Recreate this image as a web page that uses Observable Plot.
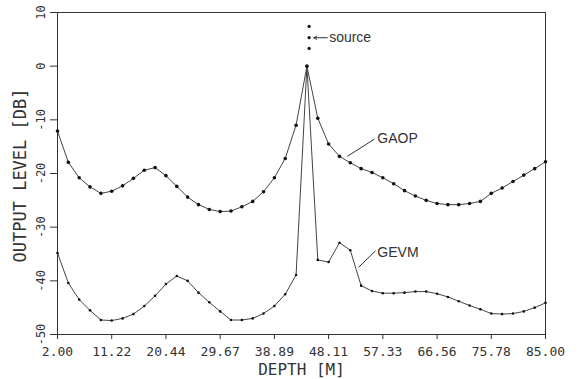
<!DOCTYPE html>
<html>
<head>
<meta charset="utf-8">
<script src="https://cdn.jsdelivr.net/npm/d3@7"></script>
<script src="https://cdn.jsdelivr.net/npm/@observablehq/plot@0.6"></script>
<style>
  html, body { margin: 0; padding: 0; background: #fff; }
  #chart svg { display: block; }
</style>
</head>
<body>
<div id="chart"></div>
<script>
// Depth grid (m) of the computed points
const depth = [2.00, 3.84, 5.69, 7.53, 9.38, 11.22, 13.07, 14.91, 16.76, 18.60,
  20.44, 22.29, 24.13, 25.98, 27.82, 29.67, 31.51, 33.36, 35.20, 37.04,
  38.89, 40.73, 42.58, 44.42, 46.27, 48.11, 49.96, 51.80, 53.64, 55.49,
  57.33, 59.18, 61.02, 62.87, 64.71, 66.56, 68.40, 70.24, 72.09, 73.93,
  75.78, 77.62, 79.47, 81.31, 83.16, 85.00];

// Output level (dB) – GAOP
const gaop = [-12.1, -17.9, -20.8, -22.5, -23.7, -23.3, -22.3, -20.9, -19.4, -18.9,
  -20.4, -22.4, -24.4, -25.8, -26.7, -27.1, -27.0, -26.2, -25.2, -23.4,
  -20.8, -17.2, -11.0, 0.0, -9.7, -14.5, -16.8, -18.0, -19.1, -19.8,
  -20.8, -21.9, -23.2, -24.2, -25.0, -25.6, -25.8, -25.8, -25.6, -25.2,
  -23.7, -22.7, -21.5, -20.3, -19.1, -17.8];

// Output level (dB) – GEVM
const gevm = [-34.8, -40.4, -43.5, -45.5, -47.3, -47.4, -47.0, -46.2, -44.7, -42.8,
  -40.6, -39.1, -40.0, -42.2, -44.0, -45.7, -47.3, -47.3, -47.0, -46.1,
  -44.7, -42.5, -38.9, 0.0, -36.1, -36.5, -32.9, -34.3, -40.9, -41.9,
  -42.3, -42.3, -42.2, -42.0, -42.0, -42.4, -43.0, -43.8, -44.6, -45.3,
  -46.1, -46.2, -46.1, -45.7, -45.0, -44.1];

// Axis ticks
const xTicks = [2.00, 11.22, 20.44, 29.67, 38.89, 48.11, 57.33, 66.56, 75.78, 85.00];
const yTicks = [10, 0, -10, -20, -30, -40, -50];

// Source marker dots
const sourceDepth = [44.8, 44.8, 44.8];
const sourceLevel = [7.4, 5.3, 3.3];

// Series labels
const labelNames = ["GAOP", "GEVM"];
const labelDepth = [56.4, 56.4];
const labelLevel = [-13.4, -34.7];
const leaderFrom = [[55.9, -13.6], [56.1, -34.4]];
const leaderTo = [[51.3, -16.8], [53.2, -37.5]];

const gaopData = depth.map((d, i) => ({depth: d, level: gaop[i]}));
const gevmData = depth.map((d, i) => ({depth: d, level: gevm[i]}));
const sourceData = sourceDepth.map((d, i) => ({depth: d, level: sourceLevel[i]}));
const labelData = labelNames.map((n, i) => ({name: n, depth: labelDepth[i], level: labelLevel[i]}));
const leaderData = leaderFrom.map((f, i) => ({x1: f[0], y1: f[1], x2: leaderTo[i][0], y2: leaderTo[i][1]}));

const ink = "#333";
const mono = "DejaVu Sans Mono";

const chart = Plot.plot({
  width: 579,
  height: 379,
  marginLeft: 57,
  marginRight: 34,
  marginTop: 12,
  marginBottom: 45,
  style: {background: "#fff", color: ink},
  x: {domain: [2, 85]},
  y: {domain: [-50, 10]},
  marks: [
    Plot.frame({stroke: ink, strokeWidth: 1}),
    Plot.axisX({ticks: xTicks, tickFormat: d => d.toFixed(2), tickSize: 5, tickPadding: 7,
      fontSize: 13, fontFamily: mono, fill: ink, stroke: ink, label: null}),
    Plot.axisY({ticks: yTicks, tickSize: 7, tickFormat: () => "", stroke: ink, label: null}),
    Plot.text(yTicks, {x: () => 2, y: d => d, text: d => String(d), rotate: -90, dx: -16.5,
      fontSize: 12, fontFamily: mono, fill: ink}),
    Plot.text(["DEPTH [M]"], {frameAnchor: "bottom", dy: 29, lineAnchor: "top", fontSize: 16,
      fontFamily: mono, fill: ink}),
    Plot.text(["OUTPUT LEVEL [DB]"], {frameAnchor: "left", dx: -37, dy: 2, rotate: -90,
      textAnchor: "middle", lineAnchor: "middle", fontSize: 17, fontFamily: mono, fill: ink}),
    Plot.line(gaopData, {x: "depth", y: "level", stroke: "#444", strokeWidth: 1}),
    Plot.dot(gaopData, {x: "depth", y: "level", r: 1.8, fill: "#111", stroke: "none"}),
    Plot.line(gevmData, {x: "depth", y: "level", stroke: "#444", strokeWidth: 1}),
    Plot.dot(gevmData, {x: "depth", y: "level", r: 1.3, fill: "#111", stroke: "none"}),
    Plot.dot(sourceData, {x: "depth", y: "level", r: 1.6, fill: "#111", stroke: "none"}),
    Plot.arrow([{x1: 47.9, x2: 45.6, y: 5.3}], {x1: "x1", x2: "x2", y1: "y", y2: "y",
      stroke: ink, strokeWidth: 1, headLength: 5}),
    Plot.text(["source"], {x: () => 48.2, y: () => 5.3, text: d => d, textAnchor: "start",
      fontSize: 14, fontFamily: "Liberation Sans", fill: ink}),
    Plot.link(leaderData, {x1: "x1", y1: "y1", x2: "x2", y2: "y2", stroke: ink, strokeWidth: 1}),
    Plot.text(labelData, {x: "depth", y: "level", text: "name", textAnchor: "start",
      fontSize: 14, fontFamily: "Liberation Sans", fill: ink})
  ]
});

document.getElementById("chart").appendChild(chart);
</script>
</body>
</html>
